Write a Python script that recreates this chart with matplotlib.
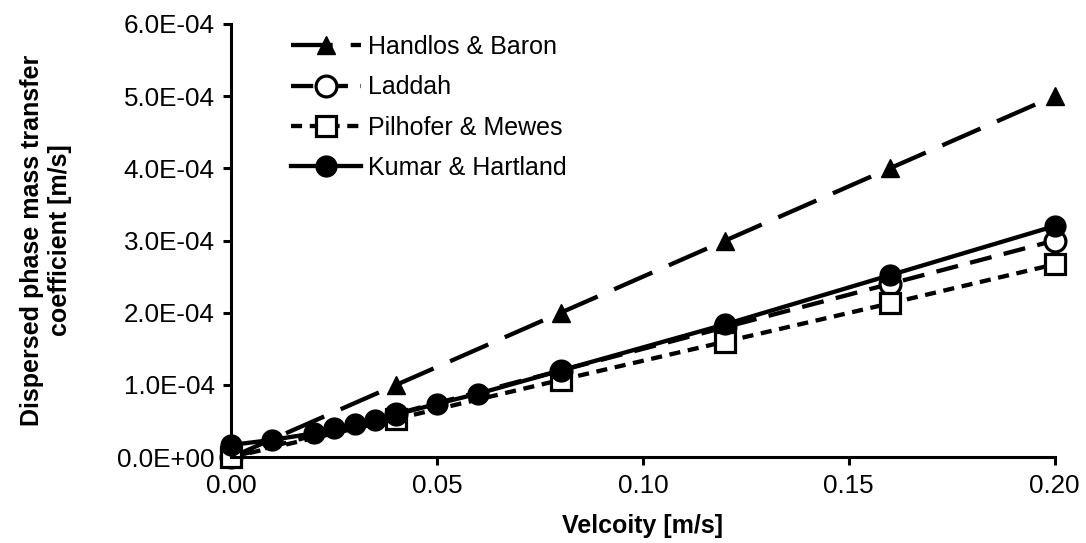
import matplotlib
matplotlib.use("Agg")
import matplotlib.pyplot as plt
from matplotlib.ticker import FuncFormatter, MultipleLocator

plt.rcParams["font.family"] = ["Liberation Sans", "DejaVu Sans"]
plt.rcParams["lines.scale_dashes"] = False

# ----- Daten -----------------------------------------------------------------

vel_hb = [0.0, 0.04, 0.08, 0.12, 0.16, 0.20]
k_hb = [0.0, 1.0e-4, 2.0e-4, 3.0e-4, 4.0e-4, 5.0e-4]

vel_la = [0.0, 0.04, 0.08, 0.12, 0.16, 0.20]
k_la = [0.0, 6.0e-5, 1.2e-4, 1.8e-4, 2.4e-4, 3.0e-4]

vel_pm = [0.0, 0.04, 0.08, 0.12, 0.16, 0.20]
k_pm = [0.0, 5.3e-5, 1.07e-4, 1.6e-4, 2.13e-4, 2.67e-4]

vel_kh = [0.0, 0.01, 0.02, 0.025, 0.03, 0.035, 0.04, 0.05, 0.06, 0.08, 0.12, 0.16, 0.20]
k_kh = [1.7e-5, 2.4e-5, 3.3e-5, 4.0e-5, 4.6e-5, 5.2e-5, 5.9e-5, 7.4e-5, 8.8e-5,
        1.2e-4, 1.84e-4, 2.52e-4, 3.2e-4]

FS = 18

fig = plt.figure(figsize=(10.86, 5.43), dpi=100)
ax = fig.add_axes([0.213, 0.158, 0.758, 0.798])

lw = 3.1
ax.plot(vel_hb, k_hb, color="black", lw=lw, dashes=(30, 13), marker="^",
        ms=13, mfc="black", mec="black", label="Handlos & Baron", clip_on=False)
ax.plot(vel_la, k_la, color="black", lw=lw, dashes=(16, 9), marker="o",
        ms=15, mfc="white", mec="black", mew=2.3, label="Laddah", clip_on=False)
ax.plot(vel_pm, k_pm, color="black", lw=lw, dashes=(8, 5.5), marker="s",
        ms=14, mfc="white", mec="black", mew=2.3, label="Pilhofer & Mewes",
        clip_on=False)
ax.plot(vel_kh, k_kh, color="black", lw=lw, marker="o", ms=15, mfc="black",
        mec="black", label="Kumar & Hartland", clip_on=False)

ax.set_xlim(0, 0.20)
ax.set_ylim(0, 6.0e-4)
ax.xaxis.set_major_locator(MultipleLocator(0.05))
ax.yaxis.set_major_locator(MultipleLocator(1.0e-4))
ax.xaxis.set_major_formatter(FuncFormatter(lambda v, p: f"{v:.2f}"))
ax.yaxis.set_major_formatter(FuncFormatter(lambda v, p: f"{v:.1E}"))

for s in ["top", "right"]:
    ax.spines[s].set_visible(False)
for s in ["left", "bottom"]:
    ax.spines[s].set_linewidth(2.2)
ax.tick_params(axis="both", direction="out", length=6, width=2.2,
               labelsize=18.7, pad=6)

ax.set_xlabel("Velcoity [m/s]", fontsize=FS, fontweight="bold")
ax.set_ylabel("Dispersed phase mass transfer\ncoefficient [m/s]", fontsize=FS,
              fontweight="bold", linespacing=1.25)
ax.xaxis.set_label_coords(0.5, -0.13)
ax.yaxis.set_label_coords(-0.193, 0.5)

ax.legend(loc="upper left", bbox_to_anchor=(0.06, 0.997), frameon=False,
          fontsize=FS, handlelength=2.8, handletextpad=0.3, labelspacing=0.65,
          borderaxespad=0)

fig.savefig("out.png", dpi=100)
